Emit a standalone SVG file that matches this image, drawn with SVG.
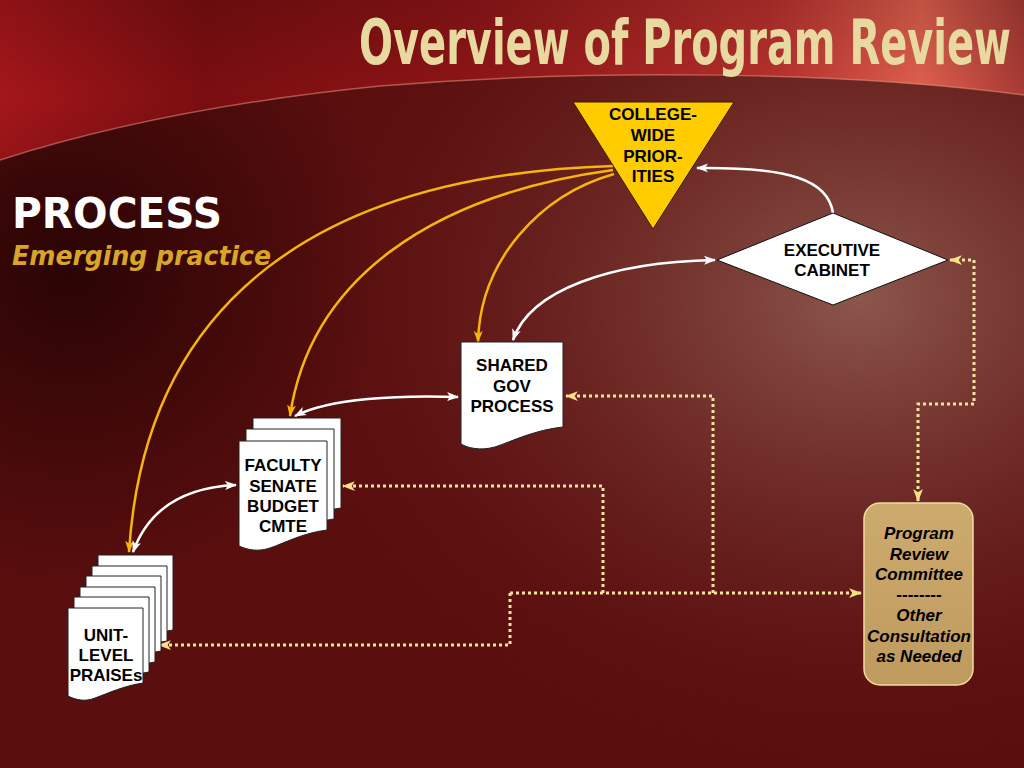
<svg xmlns="http://www.w3.org/2000/svg" width="1024" height="768" viewBox="0 0 1024 768">
<defs>
<style>
.nt{font-family:"Liberation Sans",Arial,sans-serif;font-weight:bold;font-size:17px;fill:#000;text-anchor:middle}
.doc{fill:#fff;stroke:#222;stroke-width:1}
.gold{fill:none;stroke:#F5B50A;stroke-width:2.5}
.wht{fill:none;stroke:#fff;stroke-width:2.5}
.dot{fill:none;stroke:#F5E3A0;stroke-width:3;stroke-dasharray:3 3}
</style>
<radialGradient id="hl" cx="860" cy="300" r="620" gradientUnits="userSpaceOnUse" gradientTransform="translate(860 300) scale(1 0.8) translate(-860 -300)">
<stop offset="0" stop-color="#8e5a50" stop-opacity="0.95"/>
<stop offset="0.4" stop-color="#7a3a33" stop-opacity="0.65"/>
<stop offset="1" stop-color="#5a0e0e" stop-opacity="0"/>
</radialGradient>
<radialGradient id="dk" cx="70" cy="270" r="320" gradientUnits="userSpaceOnUse">
<stop offset="0" stop-color="#250303" stop-opacity="0.9"/>
<stop offset="1" stop-color="#250303" stop-opacity="0"/>
</radialGradient>
<linearGradient id="top" x1="0" y1="0" x2="1024" y2="0" gradientUnits="userSpaceOnUse">
<stop offset="0" stop-color="#a5161a"/>
<stop offset="0.2" stop-color="#7a0e10"/>
<stop offset="0.45" stop-color="#8e1416"/>
<stop offset="0.75" stop-color="#b8302c"/>
<stop offset="0.9" stop-color="#e0604e"/>
<stop offset="1" stop-color="#a83a34"/>
</linearGradient>
<linearGradient id="topv" x1="0" y1="0" x2="0" y2="160" gradientUnits="userSpaceOnUse">
<stop offset="0" stop-color="#000" stop-opacity="0.15"/>
<stop offset="0.6" stop-color="#000" stop-opacity="0"/>
<stop offset="1" stop-color="#000" stop-opacity="0.1"/>
</linearGradient>
<linearGradient id="prc" x1="0" y1="0" x2="0" y2="1">
<stop offset="0" stop-color="#CDAA6E"/>
<stop offset="1" stop-color="#BF9A5E"/>
</linearGradient>
<marker id="ag" viewBox="0 0 12 10" refX="11" refY="5" markerWidth="12" markerHeight="10" markerUnits="userSpaceOnUse" orient="auto-start-reverse">
<path d="M0,0.5 L12,5 L0,9.5 L3,5 Z" fill="#F5B50A"/>
</marker>
<marker id="aw" viewBox="0 0 12 10" refX="11" refY="5" markerWidth="12" markerHeight="10" markerUnits="userSpaceOnUse" orient="auto-start-reverse">
<path d="M0,0.5 L12,5 L0,9.5 L3,5 Z" fill="#fff"/>
</marker>
<marker id="ay" viewBox="0 0 12 10" refX="11" refY="5" markerWidth="13" markerHeight="11" markerUnits="userSpaceOnUse" orient="auto-start-reverse">
<path d="M0,0.5 L12,5 L0,9.5 L3,5 Z" fill="#F8E08A"/>
</marker>
</defs>

<!-- background -->
<rect width="1024" height="768" fill="#5a0e0e"/>
<rect width="1024" height="768" fill="url(#hl)"/>
<rect width="1024" height="768" fill="url(#dk)"/>
<path d="M0,0 H1024 V95 C850,72 600,68 380,86 C220,102 100,128 0,160 Z" fill="url(#top)"/>
<path d="M0,0 H1024 V95 C850,72 600,68 380,86 C220,102 100,128 0,160 Z" fill="url(#topv)"/>
<path d="M1024,95 C850,72 600,68 380,86 C220,102 100,128 0,160" fill="none" stroke="#e8907e" stroke-opacity="0.55" stroke-width="1.5"/>

<!-- titles -->
<text transform="translate(685,64) scale(0.85,1)" text-anchor="middle" font-family="'Liberation Sans Narrow','DejaVu Sans Condensed','Liberation Sans',sans-serif" font-weight="bold" font-size="62" fill="#E8D9A0" textLength="767" lengthAdjust="spacingAndGlyphs">Overview of Program Review</text>
<text x="12" y="228" font-family="'DejaVu Sans',Verdana,sans-serif" font-weight="bold" font-size="42" fill="#fff" textLength="210" lengthAdjust="spacingAndGlyphs">PROCESS</text>
<text x="12" y="265" font-family="'DejaVu Sans',Verdana,sans-serif" font-weight="bold" font-style="italic" font-size="26" fill="#D9A528" textLength="259" lengthAdjust="spacingAndGlyphs">Emerging practice</text>

<!-- connectors -->
<g id="connectors">
<path class="gold" d="M613,166 C320,175 145,300 129,552" marker-end="url(#ag)"/>
<path class="gold" d="M613,170 C430,195 310,280 290,416" marker-end="url(#ag)"/>
<path class="gold" d="M614,174 C540,195 480,260 478,342" marker-end="url(#ag)"/>
<path class="wht" d="M833,213 C828,180 790,167 697,168" marker-end="url(#aw)"/>
<path class="wht" d="M513,340 C530,290 610,262 715,260" marker-start="url(#aw)" marker-end="url(#aw)"/>
<path class="wht" d="M295,416 C330,398 400,395 458,397" marker-start="url(#aw)" marker-end="url(#aw)"/>
<path class="wht" d="M133,552 C150,505 190,487 236,485" marker-start="url(#aw)" marker-end="url(#aw)"/>
<path class="dot" d="M510,593 H861" marker-end="url(#ay)"/>
<path class="dot" d="M510,593 V645 H159" marker-end="url(#ay)"/>
<path class="dot" d="M603,593 V486 H343" marker-end="url(#ay)"/>
<path class="dot" d="M713,593 V396 H566" marker-end="url(#ay)"/>
<path class="dot" d="M950,260 H974 V404 H918 V501" marker-start="url(#ay)" marker-end="url(#ay)"/>
</g>

<!-- nodes -->
<g id="college-wide-priorities">
<polygon points="573,102 734,102 653,229" fill="#FFCC00" stroke="#3a1a00" stroke-width="1"/>
<text class="nt" font-size="18" x="653" y="120">COLLEGE-</text>
<text class="nt" font-size="18" x="653" y="141">WIDE</text>
<text class="nt" font-size="18" x="653" y="162">PRIOR-</text>
<text class="nt" font-size="18" x="653" y="182">ITIES</text>
</g>

<g id="executive-cabinet">
<polygon points="717,260 833,213 948,260 833,305" fill="#fff" stroke="#111" stroke-width="1"/>
<text class="nt" x="832" y="256">EXECUTIVE</text>
<text class="nt" x="832" y="276">CABINET</text>
</g>

<g id="shared-gov-process">
<path class="doc" d="M461,342 H563 V427 C535,430 515,440 495,447 C480,451 468,448 461,444 Z"/>
<text class="nt" x="512" y="371">SHARED</text>
<text class="nt" x="512" y="392">GOV</text>
<text class="nt" x="512" y="412">PROCESS</text>
</g>

<g id="faculty-senate-budget-cmte">
<path class="doc" d="M253,418 H341 V508 C317,511 301,520 284,526 C272,530 262,528 253,524 Z"/>
<path class="doc" d="M246,429 H334 V519 C310,522 294,531 277,537 C265,541 255,539 246,535 Z"/>
<path class="doc" d="M239,441 H327 V530 C303,533 287,542 270,548 C258,552 248,550 239,546 Z"/>
<text class="nt" x="283" y="471">FACULTY</text>
<text class="nt" x="283" y="492">SENATE</text>
<text class="nt" x="283" y="512">BUDGET</text>
<text class="nt" x="283" y="532">CMTE</text>
</g>

<g id="unit-level-praises">
<path class="doc" d="M98,555 H173 V630 C153,633 139,640 125,645 C115,649 106,647 98,643 Z"/>
<path class="doc" d="M92,566 H167 V641 C147,644 133,651 119,656 C109,660 100,658 92,654 Z"/>
<path class="doc" d="M86,576 H161 V651 C141,654 127,661 113,666 C103,670 94,668 86,664 Z"/>
<path class="doc" d="M80,587 H155 V662 C135,665 121,672 107,677 C97,681 88,679 80,675 Z"/>
<path class="doc" d="M74,597 H149 V672 C129,675 115,682 101,687 C91,691 82,689 74,685 Z"/>
<path class="doc" d="M68,608 H143 V683 C123,686 109,693 95,698 C85,702 76,700 68,696 Z"/>
<text class="nt" x="106" y="641">UNIT-</text>
<text class="nt" x="106" y="661">LEVEL</text>
<text class="nt" x="106" y="681">PRAISEs</text>
</g>

<g id="program-review-committee">
<rect x="864" y="503" width="109" height="182" rx="16" fill="url(#prc)" stroke="#F0DCA0" stroke-width="1.5"/>
<text class="nt" font-style="italic" font-size="16" x="919" y="539">Program</text>
<text class="nt" font-style="italic" font-size="16" x="919" y="560">Review</text>
<text class="nt" font-style="italic" font-size="16" x="919" y="580">Committee</text>
<text class="nt" font-style="italic" font-size="16" x="919" y="600">--------</text>
<text class="nt" font-style="italic" font-size="16" x="919" y="621">Other</text>
<text class="nt" font-style="italic" font-size="16" x="919" y="642">Consultation</text>
<text class="nt" font-style="italic" font-size="16" x="919" y="662">as Needed</text>
</g>
</svg>
